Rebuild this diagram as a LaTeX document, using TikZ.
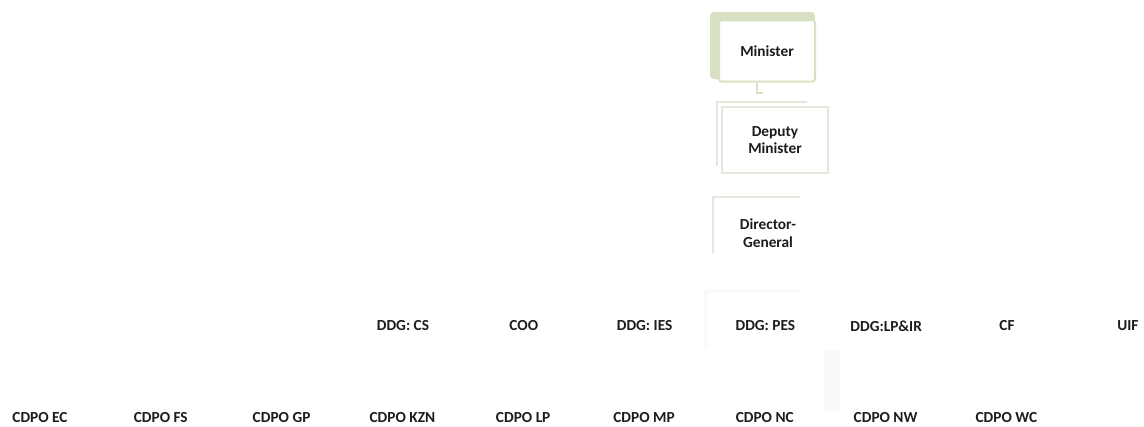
\documentclass[tikz,border=0pt]{standalone}
\usepackage{fontspec}
\setmainfont{Carlito}
\usepackage{tikz}
\usetikzlibrary{positioning,backgrounds}
\definecolor{boxgreen}{HTML}{D8E2C2}
\definecolor{paleline}{HTML}{E4E7DB}
\definecolor{fadeline}{HTML}{FAFAFA}
\definecolor{inkgray}{HTML}{1C1C1C}
\tikzstyle{unit} = [font=\fontsize{11.5}{13}\selectfont\bfseries,text=inkgray,inner sep=1pt,align=center]
\tikzstyle{post} = [unit,minimum width=72pt,minimum height=46pt]

\begin{document}
\begin{tikzpicture}[x=0.75pt,y=-0.75pt,node distance=90.6pt,on grid]
   	\useasboundingbox (0,0) rectangle (1144,426);
   	% the three posts at the top
   	\node[post,fill=white,draw=boxgreen,line width=1.5pt,rounded corners=2pt] (minister) at (767,51) {Minister};
   	\node[post,minimum width=79pt,minimum height=49pt,fill=white,draw=paleline,line width=1.5pt] (deputy) at (775,140) {Deputy\\Minister};
   	\node[post] (dg) at (768,233) {Director-\\General};
   	% row of deputy directors-general
   	\node[unit] (ddg_cs) at (403,326) {DDG: CS};
   	\node[unit] (coo) [right=of ddg_cs] {COO};
   	\node[unit] (ddg_ies) [right=of coo] {DDG: IES};
   	\node[unit] (ddg_pes) [right=of ddg_ies] {DDG: PES};
   	\node[unit] (ddg_lpir) [right=of ddg_pes] {DDG:LP\&IR};
   	\node[unit] (cf) [right=of ddg_lpir] {CF};
   	\node[unit] (uif) [right=of cf] {UIF};
   	% row of provincial offices
   	\node[unit] (cdpo_ec) at (40,418) {CDPO EC};
   	\node[unit] (cdpo_fs) [right=of cdpo_ec] {CDPO FS};
   	\node[unit] (cdpo_gp) [right=of cdpo_fs] {CDPO GP};
   	\node[unit] (cdpo_kzn) [right=of cdpo_gp] {CDPO KZN};
   	\node[unit] (cdpo_lp) [right=of cdpo_kzn] {CDPO LP};
   	\node[unit] (cdpo_mp) [right=of cdpo_lp] {CDPO MP};
   	\node[unit] (cdpo_nc) [right=of cdpo_mp] {CDPO NC};
   	\node[unit] (cdpo_nw) [right=of cdpo_nc] {CDPO NW};
   	\node[unit] (cdpo_wc) [right=of cdpo_nw] {CDPO WC};
   	\begin{scope}[on background layer]
   	  \fill[boxgreen,rounded corners=3pt] (710,12) rectangle (815,79);
   	  \draw[boxgreen,line width=1.6pt] (minister.south) ++(-10,0) -- ++(0,10) -- ++(6,0);
   	  \draw[paleline,line width=1.5pt] (717,166) -- (717,102) -- (807,102);
   	  \draw[paleline,line width=2pt] (713,253) -- (713,197) -- (800,197);
   	  \draw[fadeline,line width=3pt] (706,350) -- (706,291) -- (800,291);
   	  \draw[fadeline,line width=12pt] (832,350) -- (832,412);
   	\end{scope}
\end{tikzpicture}
\end{document}
